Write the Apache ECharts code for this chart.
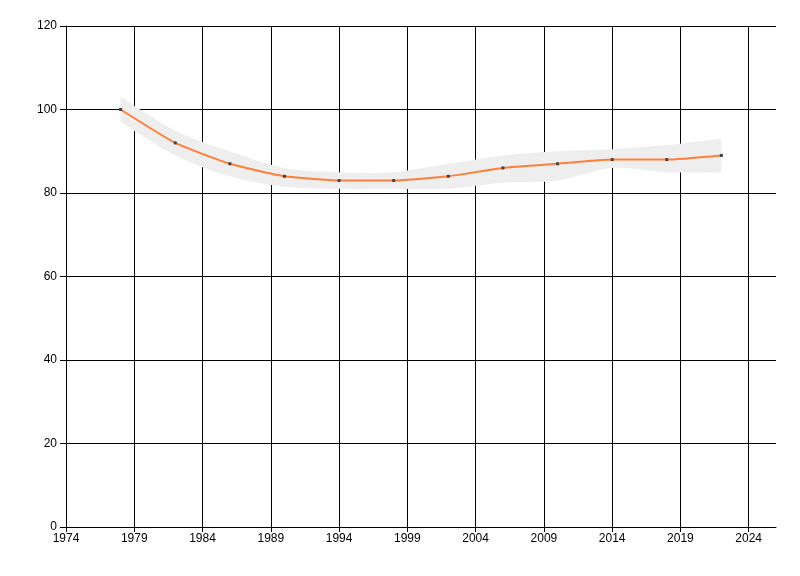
<!DOCTYPE html>
<html>
<head>
<meta charset="utf-8">
<script src="https://cdn.jsdelivr.net/npm/echarts@6/dist/echarts.min.js"></script>
<style>html,body{margin:0;padding:0;background:#fff}#c{width:800px;height:576px}</style>
</head>
<body>
<div id="c"></div>
<script>
var years = [1978, 1982, 1986, 1990, 1994, 1998, 2002, 2006, 2010, 2014, 2018, 2022];
var values = [100, 92, 87, 84, 83, 83, 84, 86, 87, 88, 88, 89];
var upper = [103, 95, 90, 86, 85, 85, 87, 89, 90, 90.5, 91.5, 93];
var lower = [97, 89, 84, 81.5, 81, 81, 81, 82.5, 83, 86, 85, 85];
var xTicks = [1974, 1979, 1984, 1989, 1994, 1999, 2004, 2009, 2014, 2019, 2024];

function splinePath(pts, first) {
  var d = first ? 'M' + pts[0][0] + ' ' + pts[0][1] : 'L' + pts[0][0] + ' ' + pts[0][1];
  var n = pts.length;
  for (var i = 0; i < n - 1; i++) {
    var p0 = pts[Math.max(i - 1, 0)], p1 = pts[i], p2 = pts[i + 1], p3 = pts[Math.min(i + 2, n - 1)];
    var c1x = p1[0] + (p2[0] - p0[0]) / 6, c1y = p1[1] + (p2[1] - p0[1]) / 6;
    var c2x = p2[0] - (p3[0] - p1[0]) / 6, c2y = p2[1] - (p3[1] - p1[1]) / 6;
    d += ' C' + c1x + ' ' + c1y + ' ' + c2x + ' ' + c2y + ' ' + p2[0] + ' ' + p2[1];
  }
  return d;
}

var chart = echarts.init(document.getElementById('c'), null, {renderer: 'canvas'});
var font = 'Liberation Sans, Arial, sans-serif';
chart.setOption({
  animation: false,
  backgroundColor: '#ffffff',
  grid: {left: 66, right: 24, top: 26, bottom: 49, containLabel: false},
  xAxis: {
    type: 'value', min: 1974, max: 2026, z: 0,
    axisLine: {show: true, onZero: false, lineStyle: {color: '#000', width: 1}},
    axisTick: {show: true, length: 5, lineStyle: {color: '#000'}, customValues: xTicks},
    axisLabel: {color: '#000', fontFamily: font, fontSize: 12, margin: 6, customValues: xTicks, formatter: function (v) { return String(v); }},
    splitLine: {show: true, lineStyle: {color: '#000', width: 1}}
  },
  yAxis: {
    type: 'value', min: 0, max: 120, interval: 20, z: 0,
    axisLine: {show: true, lineStyle: {color: '#000', width: 1}},
    axisTick: {show: true, length: 6, lineStyle: {color: '#000'}},
    axisLabel: {color: '#000', fontFamily: font, fontSize: 12, margin: 9},
    splitLine: {show: true, lineStyle: {color: '#000', width: 1}}
  },
  series: [
    {
      type: 'custom',
      z: 10,
      data: [[years[0], upper[0]]],
      renderItem: function (params, api) {
        var up = years.map(function (y, i) { return api.coord([y, upper[i]]); });
        var lo = years.map(function (y, i) { return api.coord([y, lower[i]]); }).reverse();
        var d = splinePath(up, true) + ' ' + splinePath(lo, false) + ' Z';
        return {
          type: 'path',
          shape: {pathData: d},
          style: {fill: '#eeeeee', stroke: null}
        };
      }
    },
    {
      type: 'line', smooth: 0.15, symbol: 'rect', symbolSize: 3,
      data: years.map(function (y, i) { return [y, values[i]]; }),
      lineStyle: {color: '#ff7f3a', width: 2},
      itemStyle: {color: '#444444', borderWidth: 0},
      z: 11
    }
  ]
});
</script>
</body>
</html>
